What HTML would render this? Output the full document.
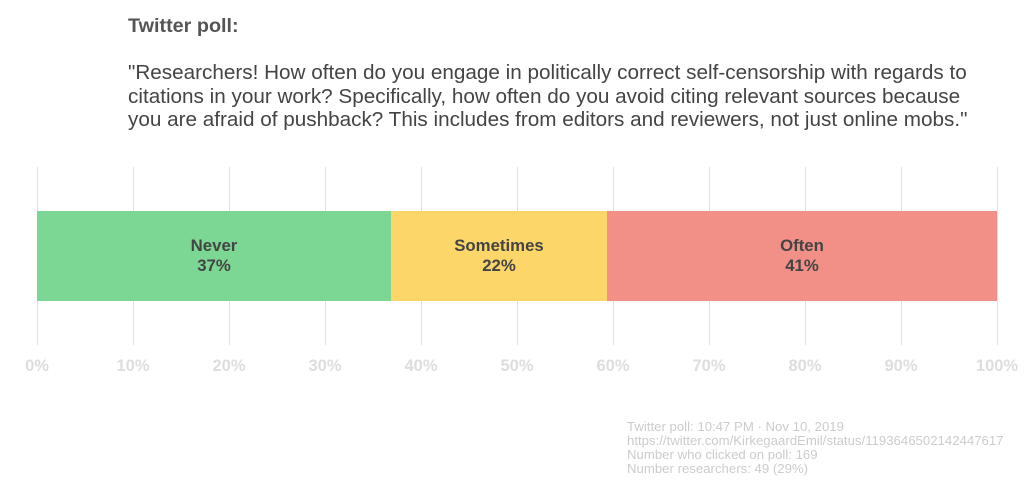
<!DOCTYPE html>
<html><head><style>
body{margin:0;width:1024px;height:484px;background:#fff;font-family:"Liberation Sans",Arial,sans-serif;position:relative;overflow:hidden}
.t{position:absolute;left:128px;top:15px;font-size:19.8px;font-weight:bold;color:#555}
.q{position:absolute;left:128px;top:61px;font-size:20.7px;line-height:23.5px;color:#444;white-space:nowrap}
.g{position:absolute;top:167px;height:178px;width:1px;background:#e2e2e2}
.bar{position:absolute;top:211px;height:90px;display:flex;align-items:center;justify-content:center;text-align:center;font-weight:bold;font-size:16.8px;line-height:20px;color:#444}
.tk{position:absolute;top:357px;width:60px;margin-left:-30px;text-align:center;font-weight:bold;font-size:16.5px;color:#ddd}
.f{position:absolute;left:627px;top:420px;font-size:13.2px;line-height:14px;color:#ccc;white-space:nowrap}
</style></head><body>
<div class="t">Twitter poll:</div>
<div class="q">"Researchers! How often do you engage in politically correct self-censorship with regards to<br>citations in your work? Specifically, how often do you avoid citing relevant sources because<br>you are afraid of pushback? This includes from editors and reviewers, not just online mobs."</div>
<div class="g" style="left:37px"></div><div class="g" style="left:133px"></div><div class="g" style="left:229px"></div><div class="g" style="left:325px"></div><div class="g" style="left:421px"></div><div class="g" style="left:517px"></div><div class="g" style="left:613px"></div><div class="g" style="left:709px"></div><div class="g" style="left:805px"></div><div class="g" style="left:901px"></div><div class="g" style="left:997px"></div>
<div class="bar" style="left:37px;width:354px;background:#7bd793">Never<br>37%</div>
<div class="bar" style="left:391px;width:216px;background:#fcd669">Sometimes<br>22%</div>
<div class="bar" style="left:607px;width:390px;background:#f29087">Often<br>41%</div>
<div class="tk" style="left:37px">0%</div><div class="tk" style="left:133px">10%</div><div class="tk" style="left:229px">20%</div><div class="tk" style="left:325px">30%</div><div class="tk" style="left:421px">40%</div><div class="tk" style="left:517px">50%</div><div class="tk" style="left:613px">60%</div><div class="tk" style="left:709px">70%</div><div class="tk" style="left:805px">80%</div><div class="tk" style="left:901px">90%</div><div class="tk" style="left:997px">100%</div>
<div class="f">Twitter poll: 10:47 PM · Nov 10, 2019<br>https://twitter.com/KirkegaardEmil/status/1193646502142447617<br>Number who clicked on poll: 169<br>Number researchers: 49 (29%)</div>
</body></html>
